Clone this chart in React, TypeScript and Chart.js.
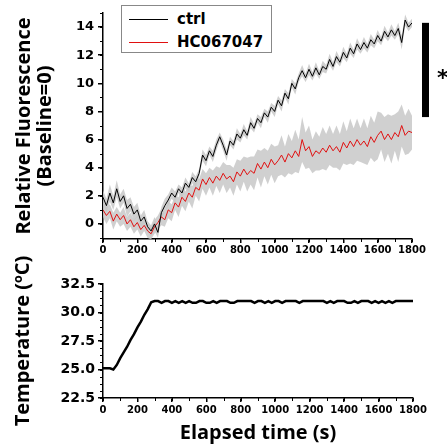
import React, { useEffect, useRef } from 'react';
import { Chart, registerables } from 'chart.js';
Chart.register(...registerables);

const time = [0,20,40,60,80,100,120,140,160,180,200,220,240,260,280,300,320,340,360,380,400,420,440,460,480,500,520,540,560,580,600,620,640,660,680,700,720,740,760,780,800,820,840,860,880,900,920,940,960,980,1000,1020,1040,1060,1080,1100,1120,1140,1160,1180,1200,1220,1240,1260,1280,1300,1320,1340,1360,1380,1400,1420,1440,1460,1480,1500,1520,1540,1560,1580,1600,1620,1640,1660,1680,1700,1720,1740,1760,1780,1800];

const ctrl = [
  1.9,1.3,2.2,1.5,2.5,1.6,2.0,1.1,1.4,0.7,
  1.0,0.2,0.5,-0.2,-0.5,0.0,-0.6,0.8,1.3,1.7,
  2.2,1.9,2.5,2.2,2.9,2.6,3.3,3.0,3.6,4.9,
  4.5,5.2,4.8,5.6,6.2,5.6,4.9,5.9,5.6,6.4,
  6.1,6.7,6.3,7.2,6.8,7.5,7.2,7.9,7.6,8.3,
  8.0,8.8,8.4,9.3,8.9,10.0,9.6,10.4,10.9,10.4,
  11.0,10.5,11.1,10.6,11.2,11.0,11.7,11.2,11.9,11.5,
  12.2,11.8,12.5,12.1,12.8,12.4,12.9,12.5,13.1,12.8,
  13.4,13.0,13.7,13.3,13.8,13.4,13.9,12.9,14.5,14.0,
  14.3
];
const ctrlSem = [
  0.5,0.5,0.6,0.5,0.6,0.5,0.5,0.6,0.5,0.5,
  0.5,0.4,0.5,0.4,0.4,0.5,0.4,0.4,0.5,0.4,
  0.4,0.4,0.3,0.4,0.4,0.3,0.4,0.4,0.3,0.4,
  0.4,0.3,0.4,0.4,0.3,0.4,0.4,0.3,0.3,0.4,
  0.3,0.4,0.3,0.4,0.3,0.3,0.4,0.3,0.4,0.3,
  0.4,0.3,0.4,0.3,0.4,0.3,0.4,0.3,0.4,0.3,
  0.4,0.3,0.4,0.3,0.4,0.3,0.4,0.3,0.4,0.3,
  0.4,0.3,0.4,0.3,0.4,0.3,0.4,0.3,0.4,0.3,
  0.4,0.3,0.4,0.3,0.4,0.3,0.4,0.5,0.4,0.3,
  0.3
];
const hc067047 = [
  1.0,0.6,0.9,0.2,0.7,0.3,0.6,0.0,0.3,-0.2,
  0.1,-0.4,-0.1,-0.5,-0.7,-0.2,0.1,0.5,0.3,1.0,
  0.8,1.5,1.2,1.9,1.6,2.2,1.9,2.6,2.4,3.2,
  2.8,3.3,2.9,3.4,3.1,3.6,3.2,3.4,3.0,3.7,
  3.4,3.9,3.5,3.8,3.6,4.3,3.9,4.4,4.0,4.6,
  4.2,4.5,4.9,4.4,5.0,4.7,5.2,4.8,6.0,5.2,
  5.5,4.8,5.2,5.0,5.4,5.1,5.6,5.2,5.5,5.1,
  5.8,5.4,5.9,5.5,6.0,5.6,5.9,5.5,6.2,5.8,
  6.3,6.6,6.0,6.4,6.0,6.5,6.2,7.0,6.3,6.6,
  6.5
];
const hcSem = [
  0.5,0.6,0.5,0.6,0.5,0.5,0.6,0.5,0.5,0.5,
  0.5,0.5,0.4,0.5,0.4,0.5,0.5,0.6,0.5,0.6,
  0.6,0.5,0.7,0.6,0.7,0.6,0.8,0.6,0.8,0.7,
  0.8,0.7,0.9,0.7,0.9,0.8,1.0,0.8,1.0,0.9,
  1.1,0.9,1.2,1.0,1.2,1.0,1.3,1.0,1.2,1.1,
  1.3,1.1,1.4,1.1,1.4,1.2,1.5,1.2,1.6,1.3,
  1.5,1.2,1.4,1.2,1.5,1.3,1.4,1.2,1.5,1.3,
  1.5,1.2,1.6,1.3,1.5,1.2,1.6,1.3,1.5,1.4,
  1.7,1.3,1.6,1.4,1.7,1.3,1.8,1.5,1.4,1.6,
  1.2
];
const temperature = [
  25.1,25.1,25.1,25.0,25.4,26.0,26.5,27.0,27.6,28.1,
  28.7,29.2,29.8,30.3,30.9,31.0,31.0,30.85,31.0,31.0,
  30.85,31.0,30.85,31.0,30.85,31.0,30.85,30.85,31.0,31.0,
  30.85,30.85,31.0,30.85,31.0,31.0,31.0,30.85,30.85,31.0,
  31.0,31.0,31.0,31.0,30.85,31.0,31.0,30.85,31.0,30.85,
  31.0,31.0,30.85,31.0,31.0,31.0,31.0,30.85,31.0,31.0,
  31.0,31.0,31.0,31.0,31.0,30.85,31.0,30.85,31.0,31.0,
  31.0,30.85,30.85,31.0,30.85,31.0,31.0,31.0,30.85,31.0,
  30.85,31.0,30.85,31.0,30.85,31.0,31.0,31.0,31.0,31.0,
  31.0
];
const sigBar = [7.6, 14.3];
const legendLabels = ['ctrl', 'HC067047'];
const xTicks = [0,200,400,600,800,1000,1200,1400,1600,1800];
const fluoTicks = [0,2,4,6,8,10,12,14];
const tempTicks = [22.5,25.0,27.5,30.0,32.5];

const TICK_FONT = "'DejaVu Sans', sans-serif";
const TITLE_FONT = "'Open Sans', sans-serif";

const minorTicks = {
  id: 'minorTicks',
  afterDraw(chart: any, _args: any, opts: any) {
    const { ctx } = chart;
    const xs = chart.scales.x;
    const ys = chart.scales.y;
    ctx.save();
    ctx.strokeStyle = '#000';
    ctx.lineWidth = 1;
    ctx.beginPath();
    for (let v = xs.min; v <= xs.max + 1e-9; v += opts.x) {
      const px = Math.round(xs.getPixelForValue(v)) + 0.5;
      ctx.moveTo(px, xs.top);
      ctx.lineTo(px, xs.top + 3);
    }
    const start = Math.ceil(ys.min / opts.y) * opts.y;
    for (let v = start; v <= ys.max + 1e-9; v += opts.y) {
      const py = Math.round(ys.getPixelForValue(v)) + 0.5;
      ctx.moveTo(ys.right - 3, py);
      ctx.lineTo(ys.right, py);
    }
    ctx.stroke();
    ctx.restore();
  },
};

const sigPlugin = {
  id: 'sigPlugin',
  afterDraw(chart: any) {
    const { ctx, chartArea } = chart;
    const ys = chart.scales.y;
    const top = ys.getPixelForValue(sigBar[1]);
    const bot = ys.getPixelForValue(sigBar[0]);
    ctx.save();
    ctx.fillStyle = '#000';
    ctx.fillRect(chartArea.right + 10, top, 7, bot - top);
    ctx.font = `bold 22px ${TICK_FONT}`;
    ctx.textAlign = 'left';
    ctx.textBaseline = 'middle';
    ctx.fillText('*', chartArea.right + 25, (top + bot) / 2 + 9);
    ctx.restore();
  },
};

function pts(vals: number[]) {
  return time.map((t, i) => ({ x: t, y: vals[i] }));
}
function band(vals: number[], sem: number[], sign: number) {
  return time.map((t, i) => ({ x: t, y: vals[i] + sign * sem[i] }));
}
function fixTicks(list: number[]) {
  return (s: any) => { s.ticks = list.map((v) => ({ value: v })); };
}

const axisCommon = {
  border: { display: true, color: '#000', width: 1.5 },
  grid: { drawOnChartArea: false, drawTicks: true, tickLength: 5, color: '#000', lineWidth: 1.5 },
};

export default function App() {
  const topRef = useRef<HTMLCanvasElement>(null);
  const botRef = useRef<HTMLCanvasElement>(null);

  useEffect(() => {
    const bandColor = 'rgba(200,200,200,0.85)';
    const top = new Chart(topRef.current!, {
      type: 'line',
      data: {
        datasets: [
          { label: legendLabels[0], data: pts(ctrl), borderColor: '#000', borderWidth: 1, pointRadius: 0, fill: false, order: 0 },
          { label: legendLabels[1], data: pts(hc067047), borderColor: '#e01010', borderWidth: 1, pointRadius: 0, fill: false, order: 1 },
          { label: 'ctrl+', data: band(ctrl, ctrlSem, 1), borderWidth: 0, pointRadius: 0, backgroundColor: bandColor, fill: '+1', order: 2 },
          { label: 'ctrl-', data: band(ctrl, ctrlSem, -1), borderWidth: 0, pointRadius: 0, fill: false, order: 3 },
          { label: 'hc+', data: band(hc067047, hcSem, 1), borderWidth: 0, pointRadius: 0, backgroundColor: bandColor, fill: '+1', order: 4 },
          { label: 'hc-', data: band(hc067047, hcSem, -1), borderWidth: 0, pointRadius: 0, fill: false, order: 5 },
        ],
      },
      options: {
        animation: false,
        responsive: false,
        devicePixelRatio: 1,
        layout: { padding: { left: 0, right: 35, top: 13, bottom: 0 } },
        plugins: { legend: { display: false }, tooltip: { enabled: false }, minorTicks: { x: 100, y: 1 } } as any,
        scales: {
          x: {
            type: 'linear', min: 0, max: 1800,
            ...axisCommon,
            grid: { ...axisCommon.grid, tickLength: 4 },
            afterBuildTicks: fixTicks(xTicks),
            ticks: { maxRotation: 0, autoSkip: false, padding: 1, color: '#000', callback: (v: any) => String(v), font: { family: TICK_FONT, weight: 'bold', size: 10 } },
            afterFit: (s: any) => { s.height = 23; },
          },
          y: {
            type: 'linear', min: -1.07, max: 15,
            ...axisCommon,
            afterBuildTicks: fixTicks(fluoTicks),
            ticks: { padding: 4, color: '#000', callback: (v: any) => String(v), font: { family: TICK_FONT, weight: 'bold', size: 13 } },
            title: { display: true, text: ['Relative Fluorescence', '(Baseline=0)'], color: '#000', padding: { top: 14, bottom: 0 }, font: { family: TITLE_FONT, weight: 'bold', size: 20, lineHeight: 1.05 } },
            afterFit: (s: any) => { s.width = 103; },
          },
        },
      } as any,
      plugins: [minorTicks, sigPlugin],
    });

    const bot = new Chart(botRef.current!, {
      type: 'line',
      data: {
        datasets: [
          { label: 'Temperature', data: pts(temperature), borderColor: '#000', borderWidth: 2.5, pointRadius: 0, fill: false },
        ],
      },
      options: {
        animation: false,
        responsive: false,
        devicePixelRatio: 1,
        layout: { padding: { left: 0, right: 34, top: 34, bottom: 0 } },
        plugins: { legend: { display: false }, tooltip: { enabled: false }, minorTicks: { x: 100, y: 0.625 } } as any,
        scales: {
          x: {
            type: 'linear', min: 0, max: 1800,
            ...axisCommon,
            grid: { ...axisCommon.grid, tickLength: 4 },
            afterBuildTicks: fixTicks(xTicks),
            ticks: { maxRotation: 0, autoSkip: false, padding: 2, color: '#000', callback: (v: any) => String(v), font: { family: TICK_FONT, weight: 'bold', size: 10 } },
            title: { display: true, text: 'Elapsed time (s)', color: '#000', padding: { top: 0, bottom: 3 }, font: { family: TITLE_FONT, weight: 'bold', size: 20 } },
            afterFit: (s: any) => { s.height = 50; },
          },
          y: {
            type: 'linear', min: 22.5, max: 32.5,
            ...axisCommon,
            afterBuildTicks: fixTicks(tempTicks),
            ticks: { padding: 3, color: '#000', callback: (v: any) => Number(v).toFixed(1), font: { family: TICK_FONT, weight: 'bold', size: 14 } },
            title: { display: true, text: 'Temperature (ºC)', color: '#000', padding: { top: 12, bottom: 0 }, font: { family: TITLE_FONT, weight: 'bold', size: 20, lineHeight: 1.1 } },
            afterFit: (s: any) => { s.width = 103; },
          },
        },
      } as any,
      plugins: [minorTicks],
    });

    return () => { top.destroy(); bot.destroy(); };
  }, []);

  const legendText: React.CSSProperties = { fontFamily: TICK_FONT, fontWeight: 'bold', fontSize: 15, color: '#000', lineHeight: '18px' };
  return (
    <div style={{ position: 'fixed', left: 0, top: 0, width: 447, height: 448, background: '#fff' }}>
      <canvas ref={topRef} width={447} height={262} style={{ position: 'absolute', left: 0, top: 0, width: 447, height: 262 }} />
      <canvas ref={botRef} width={447} height={198} style={{ position: 'absolute', left: 0, top: 250, width: 447, height: 198 }} />
      <div style={{ position: 'absolute', left: 121, top: 5, width: 149, height: 46, border: '1px solid #888', background: '#fff', zIndex: 2 }}>
        <div style={{ position: 'absolute', left: 7, top: 13, width: 39, borderTop: '1px solid #000' }} />
        <div style={{ position: 'absolute', left: 55, top: 4, ...legendText }}>{legendLabels[0]}</div>
        <div style={{ position: 'absolute', left: 7, top: 36, width: 39, borderTop: '1px solid #e01010' }} />
        <div style={{ position: 'absolute', left: 55, top: 27, ...legendText }}>{legendLabels[1]}</div>
      </div>
    </div>
  );
}
